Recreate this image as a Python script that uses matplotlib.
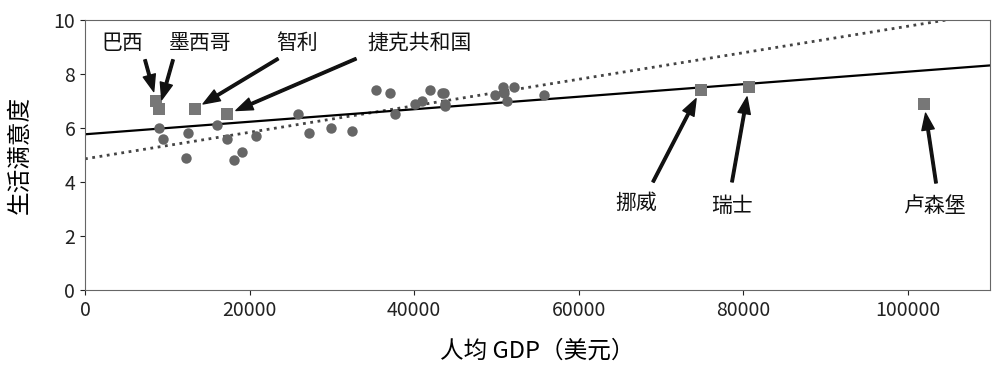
import numpy as np
import matplotlib
matplotlib.use("Agg")
import matplotlib.pyplot as plt

plt.rcParams['font.family'] = ['Noto Sans CJK SC', 'DejaVu Sans']

# 样本国家 (圆点): 人均 GDP (美元), 生活满意度
gdp_sample = [9054.914, 9437.372, 12239.894, 12495.334, 15991.736, 17288.083,
              18064.288, 19121.592, 20732.482, 25864.721, 27195.197, 29866.581,
              32485.545, 35343.336, 37044.891, 37675.006, 40106.632, 40996.511,
              41973.988, 43331.961, 43603.115, 43724.031, 43770.688, 49866.266,
              50854.583, 50961.865, 51350.744, 52114.165, 55805.204]
life_sample = [6.0, 5.6, 4.9, 5.8, 6.1, 5.6, 4.8, 5.1, 5.7, 6.5, 5.8, 6.0,
               5.9, 7.4, 7.3, 6.5, 6.9, 7.0, 7.4, 7.3, 7.3, 6.9, 6.8, 7.2,
               7.5, 7.3, 7.0, 7.5, 7.2]

# 缺失国家 (方块)
missing_names = ["巴西", "墨西哥", "智利", "捷克共和国", "挪威", "瑞士", "卢森堡"]
gdp_missing = [8669.998, 9009.280, 13340.905, 17256.918, 74822.106, 80675.308, 101994.093]
life_missing = [7.0, 6.7, 6.7, 6.5, 7.4, 7.5, 6.9]

# 标注文字中心与箭头起点 (数据坐标)
text_x = [4500, 14000, 25770, 40700, 66970, 78640, 103200]
text_y = [9.15, 9.15, 9.15, 9.15, 3.22, 3.11, 3.11]
arrow_x = [7290, 10700, 23460, 32940, 69040, 78640, 103440]
arrow_y = [8.52, 8.52, 8.56, 8.56, 4.0, 4.0, 3.96]

x_max = 110000

# 两条线性拟合: 全部数据 (实线), 仅样本 (点线)
gdp_full = np.array(gdp_sample + gdp_missing)
life_full = np.array(life_sample + life_missing)
slope_full, icpt_full = np.polyfit(gdp_full, life_full, 1)
slope_s, icpt_s = np.polyfit(gdp_sample, life_sample, 1)

fig = plt.figure(figsize=(10, 3.75), dpi=100)
ax = fig.add_axes([0.085, 0.227, 0.905, 0.72])

X = np.linspace(0, x_max, 1000)
ax.plot(X, icpt_s + slope_s * X, color='#444444', linestyle=':', linewidth=2)
ax.plot(X, icpt_full + slope_full * X, color='black', linewidth=1.6)

ax.plot(gdp_sample, life_sample, 'o', color='#666666', markersize=7.5, markeredgewidth=0)

for name, gx, ly, tx, ty, axx, ayy in zip(missing_names, gdp_missing, life_missing,
                                          text_x, text_y, arrow_x, arrow_y):
    ax.plot(gx, ly, 's', color='#777777', markersize=9, markeredgewidth=0)
    ax.text(tx, ty, name, ha='center', va='center', fontsize=15, color='#111111')
    ax.annotate("", xy=(gx, ly), xytext=(axx, ayy),
                arrowprops=dict(arrowstyle='simple,head_length=0.8,head_width=0.6,tail_width=0.12',
                                mutation_scale=15, shrinkA=0, shrinkB=7,
                                color='#111111'))

ax.set_xlim(0, x_max)
ax.set_ylim(0, 10)
ax.set_xticks([0, 20000, 40000, 60000, 80000, 100000])
ax.set_yticks([0, 2, 4, 6, 8, 10])
ax.tick_params(labelsize=14, colors='#222222')
for sp in ax.spines.values():
    sp.set_color('#666666')
ax.set_xlabel("人均 GDP（美元）", fontsize=17, labelpad=14)
ax.set_ylabel("生活满意度", fontsize=17, labelpad=16)

fig.savefig("out.png", dpi=100)
